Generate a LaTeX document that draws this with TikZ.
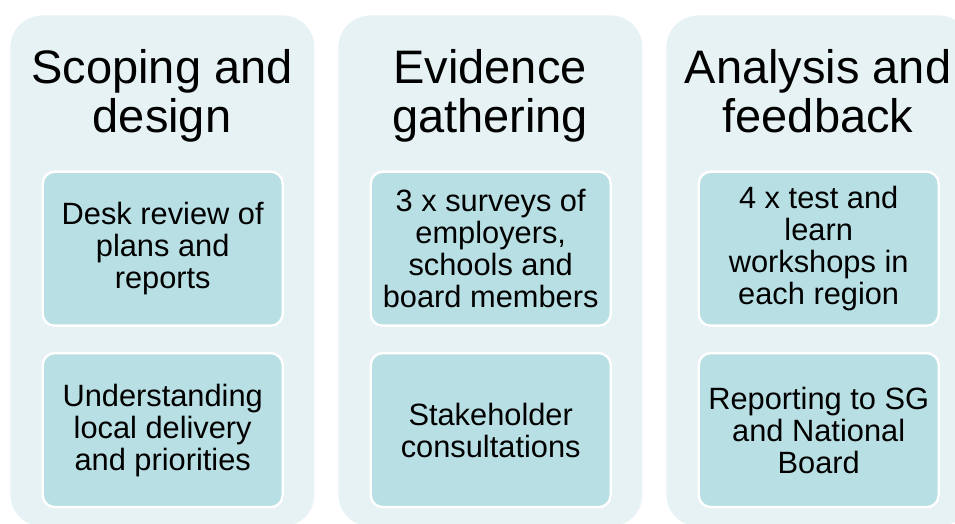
\documentclass[tikz,border=0pt]{standalone}
\usepackage{fontspec}
\setmainfont{Liberation Sans}
\usepackage{tikz}
\usetikzlibrary{positioning}
\definecolor{panelcolor}{HTML}{E6F2F4}
\definecolor{cardcolor}{HTML}{B8DFE3}

\begin{document}
\begin{tikzpicture}[
    x=0.5pt, y=-0.5pt,
    panel/.style={fill=panelcolor, rounded corners=16pt, minimum width=152pt,
                  minimum height=255.5pt, inner sep=0pt, anchor=north west},
    heading/.style={font=\fontsize{23.5}{24.5}\selectfont, align=center,
                    inner sep=0pt, anchor=north},
    card/.style={draw=white, line width=1.2pt, fill=cardcolor, rounded corners=6pt,
                 minimum width=120pt, minimum height=77pt, inner sep=2pt,
                 align=center, font=\fontsize{15.4}{16}\selectfont}
]
    \path[use as bounding box, fill=white] (0,0) rectangle (955,524);
    \clip (0,0) rectangle (955,524);

    % --- Scoping and design ---
    \def\x{10}
    \node[panel] (sd) at (\x,15) {};
    \node[heading] (sdT) at (\x+152,49) {Scoping and\\design};
    \node[card, anchor=north west] (sd1) at (\x+31.5,170.5) {Desk review of\\plans and\\reports};
    \node[card, below=12.5pt of sd1] (sd2) {Understanding\\local delivery\\and priorities};

    % --- Evidence gathering ---
    \pgfmathsetmacro{\x}{\x+328}
    \node[panel] (eg) at (\x,15) {};
    \node[heading] (egT) at (\x+152,49) {Evidence\\gathering};
    \node[card, anchor=north west] (eg1) at (\x+31.5,170.5) {3 x surveys of\\employers,\\schools and\\board members};
    \node[card, below=12.5pt of eg1] (eg2) {Stakeholder\\consultations};

    % --- Analysis and feedback ---
    \pgfmathsetmacro{\x}{\x+328}
    \node[panel] (af) at (\x,15) {};
    \node[heading] (afT) at (\x+152,49) {Analysis and\\feedback};
    \node[card, anchor=north west] (af1) at (\x+31.5,170.5) {4 x test and\\learn\\workshops in\\each region};
    \node[card, below=12.5pt of af1] (af2) {Reporting to SG\\and National\\Board};
\end{tikzpicture}
\end{document}
